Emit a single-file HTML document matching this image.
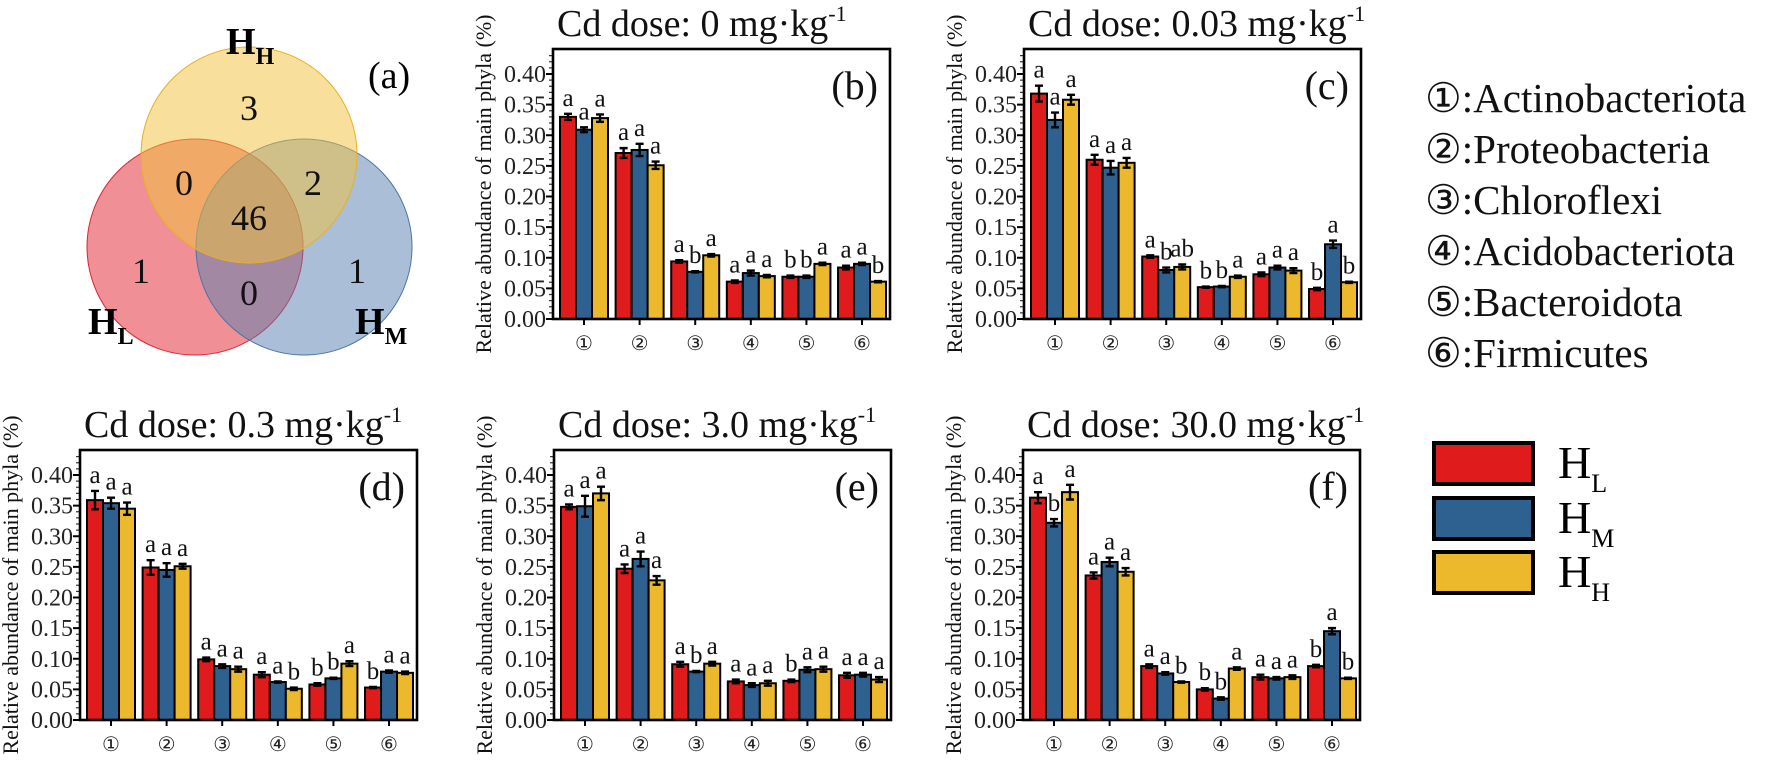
<!DOCTYPE html>
<html><head><meta charset="utf-8">
<style>
html,body{margin:0;padding:0;background:#fff;}
svg{display:block;font-family:"Liberation Serif","Times New Roman",serif;}
</style></head>
<body>
<svg id="fig" width="1772" height="767" viewBox="0 0 1772 767" xmlns="http://www.w3.org/2000/svg">
  <g>
    <circle cx="195" cy="247" r="108" fill="#e2222e" fill-opacity="0.5" stroke="#e2222e" stroke-width="1"/>
    <circle cx="304" cy="247" r="108" fill="#5580b0" fill-opacity="0.5" stroke="#4a75a5" stroke-width="1"/>
    <circle cx="249" cy="155" r="108" fill="#f2c23a" fill-opacity="0.5" stroke="#e8b020" stroke-width="1"/>
    <g font-size="36" text-anchor="middle" fill="#111">
      <text x="249" y="120">3</text>
      <text x="184" y="195">0</text>
      <text x="313" y="195">2</text>
      <text x="249" y="230">46</text>
      <text x="141" y="283">1</text>
      <text x="249" y="305">0</text>
      <text x="357" y="283">1</text>
    </g>
    <text x="226" y="54" font-size="38" font-weight="bold">H<tspan font-size="24" dy="10">H</tspan></text>
    <text x="88" y="334" font-size="38" font-weight="bold">H<tspan font-size="24" dy="10">L</tspan></text>
    <text x="355" y="334" font-size="38" font-weight="bold">H<tspan font-size="24" dy="10">M</tspan></text>
    <text x="368" y="88" font-size="38">(a)</text>
  </g>

  <g font-size="41" fill="#111">
    <text x="1425" y="112">①:Actinobacteriota</text>
    <text x="1425" y="163">②:Proteobacteria</text>
    <text x="1425" y="214">③:Chloroflexi</text>
    <text x="1425" y="265">④:Acidobacteriota</text>
    <text x="1425" y="316">⑤:Bacteroidota</text>
    <text x="1425" y="367">⑥:Firmicutes</text>
  </g>

  <g>
    <rect x="1434" y="443" width="99" height="41" fill="#e01b1b" stroke="#000" stroke-width="4"/>
    <rect x="1434" y="498" width="99" height="41" fill="#2e6090" stroke="#000" stroke-width="4"/>
    <rect x="1434" y="552" width="99" height="41" fill="#ecb82c" stroke="#000" stroke-width="4"/>
    <text x="1558" y="478" font-size="46">H<tspan font-size="26" dy="14">L</tspan></text>
    <text x="1558" y="533" font-size="46">H<tspan font-size="26" dy="14">M</tspan></text>
    <text x="1558" y="587" font-size="46">H<tspan font-size="26" dy="14">H</tspan></text>
  </g>
</svg>
<script>
const categories = ['①','②','③','④','⑤','⑥'];
const yTicks = [0.00,0.05,0.10,0.15,0.20,0.25,0.30,0.35,0.40];
const yTickLabels = ['0.00','0.05','0.10','0.15','0.20','0.25','0.30','0.35','0.40'];
const seriesNames = ['HL','HM','HH'];

const bHL = [0.330,0.271,0.094,0.061,0.069,0.084];
const bHM = [0.309,0.276,0.077,0.075,0.069,0.090];
const bHH = [0.328,0.251,0.104,0.070,0.090,0.061];
const bErrHL = [0.005,0.008,0.002,0.002,0.002,0.003];
const bErrHM = [0.004,0.010,0.001,0.004,0.002,0.002];
const bErrHH = [0.006,0.006,0.002,0.002,0.002,0.001];
const bSig = [['a','a','a'],['a','a','a'],['a','b','a'],['a','a','a'],['b','b','a'],['a','a','b']];

const cHL = [0.368,0.260,0.102,0.052,0.073,0.049];
const cHM = [0.325,0.247,0.080,0.053,0.084,0.122];
const cHH = [0.358,0.255,0.085,0.069,0.079,0.060];
const cErrHL = [0.013,0.008,0.002,0.001,0.003,0.002];
const cErrHM = [0.012,0.011,0.004,0.001,0.003,0.006];
const cErrHH = [0.008,0.008,0.004,0.002,0.004,0.001];
const cSig = [['a','a','a'],['a','a','a'],['a','b','ab'],['b','b','a'],['a','a','a'],['b','a','b']];

const dHL = [0.359,0.249,0.099,0.074,0.058,0.053];
const dHM = [0.354,0.245,0.088,0.062,0.068,0.079];
const dHH = [0.345,0.251,0.083,0.051,0.092,0.077];
const dErrHL = [0.015,0.012,0.003,0.004,0.002,0.001];
const dErrHM = [0.009,0.011,0.003,0.001,0.001,0.002];
const dErrHH = [0.010,0.004,0.004,0.002,0.004,0.002];
const dSig = [['a','a','a'],['a','a','a'],['a','a','a'],['a','a','b'],['b','b','a'],['b','a','a']];

const eHL = [0.348,0.247,0.091,0.063,0.064,0.073];
const eHM = [0.349,0.263,0.079,0.057,0.082,0.074];
const eHH = [0.370,0.228,0.092,0.060,0.083,0.066];
const eErrHL = [0.004,0.007,0.004,0.003,0.002,0.004];
const eErrHM = [0.017,0.012,0.001,0.003,0.004,0.003];
const eErrHH = [0.011,0.007,0.003,0.004,0.004,0.004];
const eSig = [['a','a','a'],['a','a','a'],['a','b','a'],['a','a','a'],['b','a','a'],['a','a','a']];

const fHL = [0.363,0.236,0.088,0.050,0.070,0.088];
const fHM = [0.322,0.258,0.076,0.035,0.068,0.145];
const fHH = [0.372,0.242,0.062,0.084,0.070,0.068];
const fErrHL = [0.009,0.005,0.003,0.002,0.004,0.002];
const fErrHM = [0.006,0.007,0.002,0.002,0.002,0.005];
const fErrHH = [0.012,0.006,0.001,0.002,0.003,0.001];
const fSig = [['a','b','a'],['a','a','a'],['a','a','b'],['b','b','a'],['a','a','a'],['b','a','b']];

const colors = ['#e01b1b','#2e6090','#ecb82c'];
const NS = 'http://www.w3.org/2000/svg';
const svg = document.getElementById('fig');

function mk(tag, attrs, parent){
  const el = document.createElementNS(NS, tag);
  for (const k in attrs) el.setAttribute(k, attrs[k]);
  (parent||svg).appendChild(el);
  return el;
}

function drawPanel(id, x0, y0, dose, letter, means, errs, sig){
  const W = 337, H = 270;
  const L = x0, R = x0 + W, T = y0, B = y0 + H;
  const yScale = v => B - v / 0.40 * 245;
  const xCenter = i => L + W * (0.092 + 0.165 * i);
  const barW = 16;

  const g = mk('g', {});
  
  

  const title = mk('text', {x: L + 4, y: T - 13, 'font-size': 38, fill: '#111'}, g);
  
  
  title.textContent = 'Cd dose: ' + dose + ' mg·kg';
  const sup = mk('tspan', {'font-size': 22, dy: -15}, title);
  sup.textContent = '-1';

  const cy = (T + B) / 2, cx = L - 62;
  const yt = mk('text', {x: cx, y: cy, 'font-size': 22, 'text-anchor': 'middle', transform: 'rotate(-90 ' + cx + ' ' + cy + ')', fill: '#111'}, g);
  
  
  yt.textContent = 'Relative abundance of main phyla (%)';

  for (let k = 0; k <= 43; k++) {
    const yy = yScale(k * 0.01);
    if (yy < T) break;
    const mt = mk('line', {x1: L - 4, x2: L, y1: yy, y2: yy, stroke: '#333', 'stroke-width': 1.2}, g);
    
    
  }
  yTicks.forEach((v, k) => {
    const yy = yScale(v);
    const tk = mk('line', {x1: L - 7, x2: L, y1: yy, y2: yy, stroke: '#000', 'stroke-width': 2}, g);
    
    
    const tl = mk('text', {x: L - 7, y: yy + 8, 'font-size': 24, 'text-anchor': 'end', fill: '#222'}, g);
    
    
    tl.textContent = yTickLabels[k];
  });

  categories.forEach((c, i) => {
    const xc = xCenter(i);
    for (let s = 0; s < 3; s++) {
      const v = means[s][i], e = errs[s][i];
      const bx = xc + (s - 1) * barW - barW / 2;
      const r = mk('rect', {x: bx, y: yScale(v), width: barW, height: B - yScale(v), fill: colors[s], stroke: '#000', 'stroke-width': 2}, g);
      
      
      const mx = bx + barW / 2;
      const eb = mk('path', {d: 'M' + mx + ' ' + yScale(v + e) + 'V' + yScale(v - e) + 'M' + (mx - 4) + ' ' + yScale(v + e) + 'H' + (mx + 4) + 'M' + (mx - 4) + ' ' + yScale(v - e) + 'H' + (mx + 4), stroke: '#000', 'stroke-width': 2.4, fill: 'none'}, g);
      
      
      const st = mk('text', {x: mx, y: yScale(v + e) - 8, 'font-size': 25, 'text-anchor': 'middle', fill: '#111'}, g);
      
      
      st.textContent = sig[i][s];
    }
    const xt = mk('line', {x1: xc, x2: xc, y1: B, y2: B + 6, stroke: '#000', 'stroke-width': 2}, g);
    
    
    const xl = mk('text', {x: xc, y: B + 31, 'font-size': 20, 'text-anchor': 'middle', fill: '#222'}, g);
    
    
    xl.textContent = c;
  });

  const fr = mk('rect', {x: L, y: T, width: W, height: H, fill: 'none', stroke: '#000', 'stroke-width': 2.6}, g);
  
  

  const pl = mk('text', {x: R - 12, y: T + 50, 'font-size': 40, 'text-anchor': 'end', fill: '#111'}, g);
  
  
  pl.textContent = '(' + letter + ')';
}

drawPanel('b', 553, 49, '0', 'b', [bHL, bHM, bHH], [bErrHL, bErrHM, bErrHH], bSig);
drawPanel('c', 1024, 49, '0.03', 'c', [cHL, cHM, cHH], [cErrHL, cErrHM, cErrHH], cSig);
drawPanel('d', 80, 450, '0.3', 'd', [dHL, dHM, dHH], [dErrHL, dErrHM, dErrHH], dSig);
drawPanel('e', 554, 450, '3.0', 'e', [eHL, eHM, eHH], [eErrHL, eErrHM, eErrHH], eSig);
drawPanel('f', 1023, 450, '30.0', 'f', [fHL, fHM, fHH], [fErrHL, fErrHM, fErrHH], fSig);
</script>
</body></html>
